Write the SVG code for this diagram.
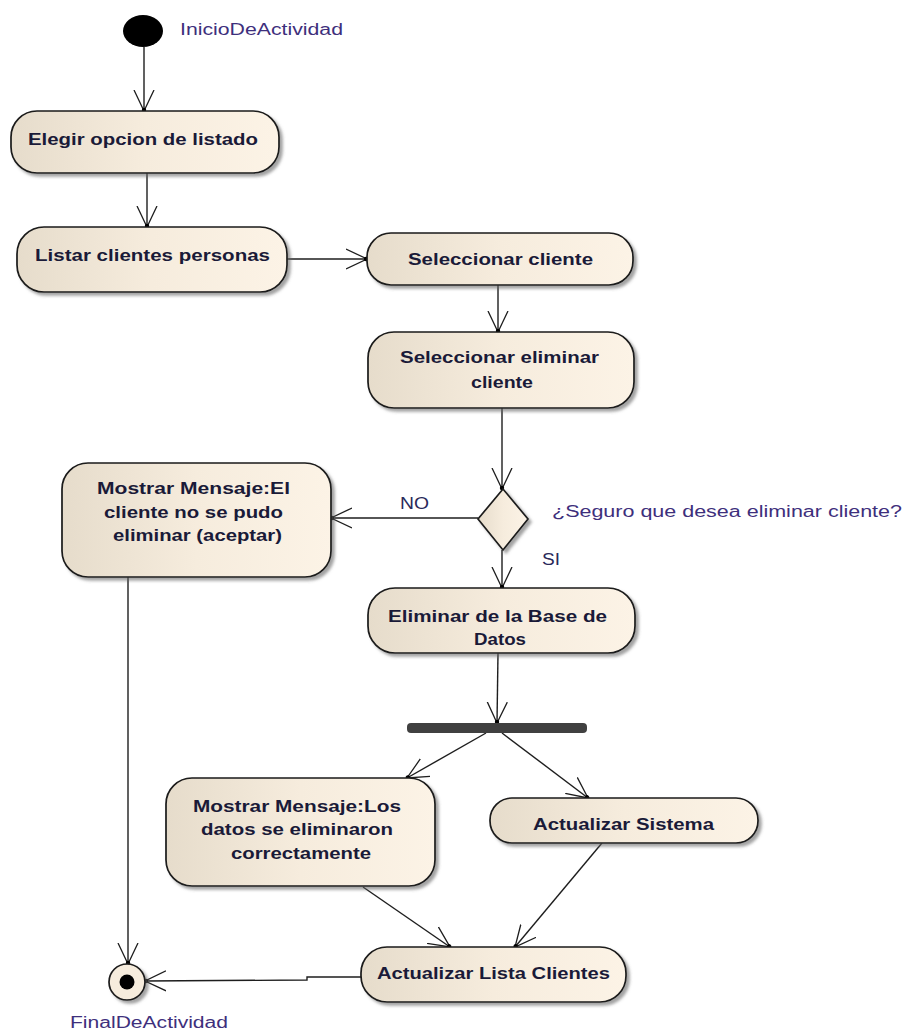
<svg xmlns="http://www.w3.org/2000/svg" width="905" height="1034" viewBox="0 0 905 1034">
<style>
.node{fill:url(#g);stroke:#1a1a1a;stroke-width:1.7;filter:url(#sh)}
.t{font-family:"Liberation Sans",Arial,sans-serif;font-weight:bold;font-size:17px;fill:#1a1a38;text-anchor:middle}
.lbl{font-family:"Liberation Sans",Arial,sans-serif;font-size:16px;fill:#3e2f7c}
.guard{font-family:"Liberation Sans",Arial,sans-serif;font-size:16px;fill:#2a2a5a}
.c{fill:none;stroke:#1e1e1e;stroke-width:1.4;marker-end:url(#arr)}
</style>
<defs>
<linearGradient id="g" x1="0" y1="0" x2="1" y2="0">
<stop offset="0" stop-color="#e6dccb"/>
<stop offset="0.5" stop-color="#f6ecdd"/>
<stop offset="1" stop-color="#fcf3e6"/>
</linearGradient>
<filter id="sh" x="-10%" y="-10%" width="130%" height="140%">
<feDropShadow dx="3" dy="3" stdDeviation="1.5" flood-color="#666" flood-opacity="0.6"/>
</filter>
<marker id="arr" viewBox="0 0 24 22" markerUnits="userSpaceOnUse" markerWidth="24" markerHeight="22" refX="21" refY="11" orient="auto">
<path d="M0,1 L21,11 L0,21" fill="none" stroke="#1e1e1e" stroke-width="1.3"/>
<circle cx="20" cy="11" r="2.2" fill="#000"/>
</marker>
</defs>
<rect width="905" height="1034" fill="#fff"/>

<g id="connectors">
<line class="c" x1="144" y1="47" x2="144" y2="111"/>
<line class="c" x1="147" y1="173" x2="147" y2="227"/>
<line class="c" x1="287" y1="259" x2="367" y2="259"/>
<line class="c" x1="498" y1="285" x2="498" y2="332"/>
<line class="c" x1="502" y1="408" x2="502" y2="489"/>
<line class="c" x1="478" y1="518" x2="331" y2="518"/>
<line class="c" x1="502" y1="550" x2="502" y2="588"/>
<line class="c" x1="498" y1="653" x2="497" y2="723"/>
<line class="c" x1="486" y1="733" x2="407" y2="778"/>
<line class="c" x1="502" y1="733" x2="588" y2="798"/>
<line class="c" x1="363" y1="887" x2="450" y2="947"/>
<line class="c" x1="602" y1="843" x2="515" y2="947"/>
<polyline class="c" points="361,977 307,977 307,980 145,981"/>
<line class="c" x1="128" y1="577" x2="128" y2="964"/>
</g>

<g id="inicio">
<ellipse cx="143" cy="31" rx="20" ry="16" fill="#000"/>
<text class="lbl" x="180" y="35" textLength="163" lengthAdjust="spacingAndGlyphs">InicioDeActividad</text>
</g>

<g id="n-elegir">
<rect class="node" x="11" y="111" width="268" height="62" rx="26"/>
<text class="t" x="143" y="145" textLength="230" lengthAdjust="spacingAndGlyphs">Elegir opcion de listado</text>
</g>

<g id="n-listar">
<rect class="node" x="17" y="227" width="270" height="65" rx="27"/>
<text class="t" x="152.5" y="261" textLength="235" lengthAdjust="spacingAndGlyphs">Listar clientes personas</text>
</g>

<g id="n-selcliente">
<rect class="node" x="367" y="233" width="266" height="52" rx="24"/>
<text class="t" x="500.5" y="265" textLength="185" lengthAdjust="spacingAndGlyphs">Seleccionar cliente</text>
</g>

<g id="n-seleliminar">
<rect class="node" x="368" y="332" width="266" height="76" rx="26"/>
<text class="t" x="499.5" y="363" textLength="199" lengthAdjust="spacingAndGlyphs">Seleccionar eliminar</text>
<text class="t" x="502" y="388" textLength="62" lengthAdjust="spacingAndGlyphs">cliente</text>
</g>

<g id="decision">
<polygon class="node" points="503,489 528,519 503,550 478,519"/>
<text class="lbl" x="552" y="517" textLength="350" lengthAdjust="spacingAndGlyphs">¿Seguro que desea eliminar cliente?</text>
<text class="guard" x="400" y="509" textLength="29" lengthAdjust="spacingAndGlyphs">NO</text>
<text class="guard" x="542" y="565" textLength="18" lengthAdjust="spacingAndGlyphs">SI</text>
</g>

<g id="n-error">
<rect class="node" x="62" y="463" width="269" height="114" rx="26"/>
<text class="t" x="193.5" y="494" textLength="193" lengthAdjust="spacingAndGlyphs">Mostrar Mensaje:El</text>
<text class="t" x="193.5" y="518" textLength="179" lengthAdjust="spacingAndGlyphs">cliente no se pudo</text>
<text class="t" x="197.5" y="541" textLength="169" lengthAdjust="spacingAndGlyphs">eliminar (aceptar)</text>
</g>

<g id="n-eliminarbd">
<rect class="node" x="368" y="588" width="267" height="65" rx="27"/>
<text class="t" x="497.5" y="622" textLength="219" lengthAdjust="spacingAndGlyphs">Eliminar de la Base de</text>
<text class="t" x="500" y="645" textLength="52" lengthAdjust="spacingAndGlyphs">Datos</text>
</g>

<g id="fork">
<rect x="407" y="723" width="180" height="10" rx="4" fill="#404040"/>
</g>

<g id="n-ok">
<rect class="node" x="166" y="778" width="269" height="108" rx="26"/>
<text class="t" x="297" y="812" textLength="208" lengthAdjust="spacingAndGlyphs">Mostrar Mensaje:Los</text>
<text class="t" x="297" y="835" textLength="192" lengthAdjust="spacingAndGlyphs">datos se eliminaron</text>
<text class="t" x="301" y="859" textLength="140" lengthAdjust="spacingAndGlyphs">correctamente</text>
</g>

<g id="n-sistema">
<rect class="node" x="490" y="798" width="268" height="45" rx="22"/>
<text class="t" x="623.5" y="830" textLength="181" lengthAdjust="spacingAndGlyphs">Actualizar Sistema</text>
</g>

<g id="n-lista">
<rect class="node" x="361" y="947" width="265" height="55" rx="26"/>
<text class="t" x="493.5" y="979" textLength="233" lengthAdjust="spacingAndGlyphs">Actualizar Lista Clientes</text>
</g>

<g id="final">
<circle cx="127" cy="982" r="18" fill="#f6ecdd" stroke="#1a1a1a" stroke-width="1.7" filter="url(#sh)"/>
<circle cx="127" cy="982" r="7.5" fill="#000"/>
<text class="lbl" x="70" y="1028" textLength="158" lengthAdjust="spacingAndGlyphs">FinalDeActividad</text>
</g>
</svg>
